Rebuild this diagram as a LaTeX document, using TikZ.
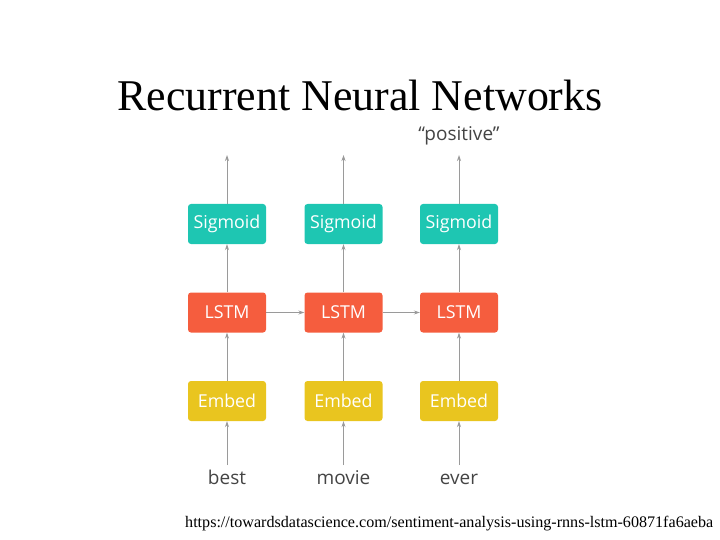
\documentclass[tikz,border=0pt]{standalone}
\usepackage{fontspec}
\setmainfont{Liberation Serif}
\newfontfamily\diagfont{Open Sans}
\usetikzlibrary{arrows.meta}
\definecolor{sigc}{HTML}{1EC6B2}
\definecolor{lstmc}{HTML}{F55D3E}
\definecolor{embc}{HTML}{E9C51F}
\definecolor{arrc}{HTML}{9A9A9A}
\definecolor{wordc}{HTML}{444444}
\tikzset{
  box/.style={rounded corners=3pt, minimum width=78pt, minimum height=40pt, inner sep=0pt, text=white, font=\diagfont\fontsize{17.8}{20}\selectfont},
  sigbox/.style={box, fill=sigc},
  lstmbox/.style={box, fill=lstmc},
  embbox/.style={box, fill=embc},
  word/.style={inner sep=0pt, anchor=base, text=wordc, font=\diagfont\fontsize{19}{22}\selectfont},
  conn/.style={draw=arrc, line width=0.8pt, -{Stealth[length=6pt,width=4pt]}},
  plain/.style={draw=arrc, line width=0.8pt}
}
\begin{document}
\begin{tikzpicture}[x=1pt,y=-1pt]
\useasboundingbox (0,0) rectangle (720,540);
\node[inner sep=0pt, font=\fontsize{43.9}{50}\selectfont] (title) at (360,95) {Recurrent Neural Networks};
\foreach \i/\x/\w in {1/227/best,2/343.5/movie,3/459/ever}{
  \node[sigbox] (s\i) at (\x,224) {Sigmoid};
  \node[lstmbox] (l\i) at (\x,312.5) {LSTM};
  \node[embbox] (e\i) at (\x,401) {Embed};
  \node[word] (w\i) at (\x,484) {\w};
  \coordinate (t\i) at (\x,155);
  \coordinate (b\i) at (\x,465);
  \draw[conn] (s\i.north) -- (t\i);
  \draw[conn] (l\i.north) -- (s\i.south);
  \draw[conn] (e\i.north) -- (l\i.south);
  \draw[conn] (b\i) -- (e\i.south);
}
\draw[conn] (l1.east) -- (l2.west);
\draw[conn] (l2.east) -- (l3.west);
\node[word] (pos) at (459,141) {“positive”};
\node[inner sep=0pt, anchor=west, font=\fontsize{16.1}{19}\selectfont] (url) at (185,524) {https://towardsdatascience.com/sentiment-analysis-using-rnns-lstm-60871fa6aeba};
\end{tikzpicture}
\end{document}
